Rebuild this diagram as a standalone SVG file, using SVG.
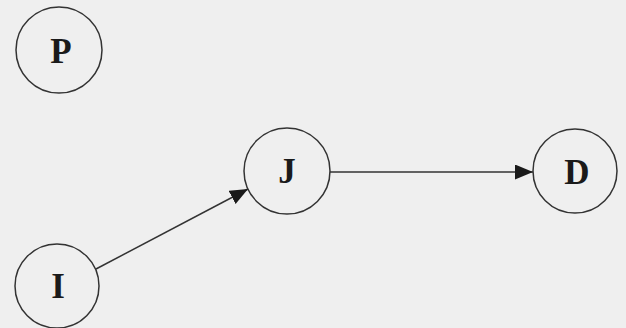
<svg xmlns="http://www.w3.org/2000/svg" width="626" height="328" viewBox="0 0 626 328">
<defs>
<style>
.node circle{fill:none;stroke:#333;stroke-width:1.5}
.node text{font-family:"Liberation Serif","Times New Roman",serif;font-weight:bold;font-size:35px;fill:#1a1a1a;text-anchor:middle}
.edge{stroke:#333;stroke-width:1.5;fill:none}
</style>
<marker id="arrow" viewBox="0 0 18 15" refX="18" refY="7.5" markerWidth="18" markerHeight="15" markerUnits="userSpaceOnUse" orient="auto">
<path d="M0,0 L18,7.5 L0,15 Z" fill="#1a1a1a"/>
</marker>
</defs>
<rect width="626" height="328" fill="#efefef"/>
<g id="connectors">
<line class="edge" x1="96" y1="269" x2="248" y2="189" marker-end="url(#arrow)"/>
<line class="edge" x1="330" y1="172" x2="533" y2="172" marker-end="url(#arrow)"/>
</g>
<g id="node-P" class="node"><circle cx="59" cy="50" r="43"/><text x="61" y="63">P</text></g>
<g id="node-J" class="node"><circle cx="287" cy="171" r="43"/><text x="287" y="183">J</text></g>
<g id="node-D" class="node"><circle cx="575" cy="171" r="42"/><text x="577" y="184">D</text></g>
<g id="node-I" class="node"><circle cx="57" cy="286" r="42"/><text x="58" y="298">I</text></g>
</svg>
